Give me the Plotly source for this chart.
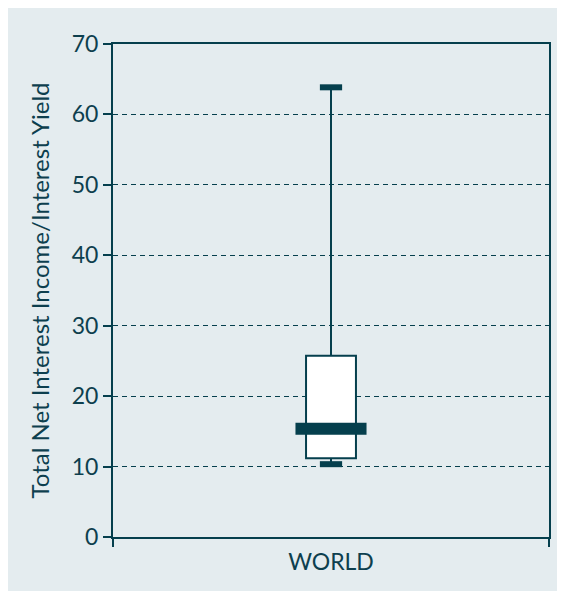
import plotly.graph_objects as go

# ---- data ----
category = ["WORLD"]
q1 = [11.18]
median = [15.37]
q3 = [25.75]
lower_whisker = [10.34]
upper_whisker = [63.85]
y_ticks = [0, 10, 20, 30, 40, 50, 60, 70]

DARK = "#053f4d"
TEXT = "#0d3f4e"
BG = "#e4ecef"
FONT = "Lato"

xc = 0  # numeric position of the single category

fig = go.Figure()

fig.add_trace(go.Box(
    x=[xc], q1=q1, median=median, q3=q3,
    lowerfence=lower_whisker, upperfence=upper_whisker,
    width=0.229, whiskerwidth=0,
    fillcolor="white", line=dict(color=DARK, width=2),
    boxpoints=False, showlegend=False, hoverinfo="skip",
))

# thick median bar
fig.add_trace(go.Scatter(
    x=[xc - 0.163, xc + 0.163], y=[median[0], median[0]],
    mode="lines", line=dict(color=DARK, width=12),
    showlegend=False, hoverinfo="skip",
))
# whisker caps
for v in (upper_whisker[0], lower_whisker[0]):
    fig.add_trace(go.Scatter(
        x=[xc - 0.051, xc + 0.051], y=[v, v],
        mode="lines", line=dict(color=DARK, width=6),
        showlegend=False, hoverinfo="skip",
    ))

fig.update_layout(
    width=555, height=583,
    margin=dict(l=105, r=14, t=36, b=54),
    paper_bgcolor=BG, plot_bgcolor=BG,
    font=dict(family=FONT, color=TEXT, size=21),
    showlegend=False,
)
fig.update_xaxes(
    range=[-1, 1], tickvals=[-1, 1], ticktext=["", ""],
    ticks="outside", ticklen=8, tickwidth=2, tickcolor=DARK,
    showline=True, linecolor=DARK, linewidth=2, mirror=True,
    showgrid=False, zeroline=False,
    title=dict(text=category[0], font=dict(size=23, color=TEXT), standoff=4),
)
fig.update_yaxes(
    range=[0, 70], tickvals=y_ticks,
    ticks="outside", ticklen=8, tickwidth=2, tickcolor=DARK,
    showline=True, linecolor=DARK, linewidth=2, mirror=True,
    showgrid=True, gridcolor=DARK, gridwidth=1.3, griddash="5px,4px",
    zeroline=False, tickfont=dict(size=23, color=TEXT),
    title=dict(text="Total Net Interest Income/Interest Yield", font=dict(size=24, color=TEXT), standoff=15),
)

fig.write_html("out.html")
